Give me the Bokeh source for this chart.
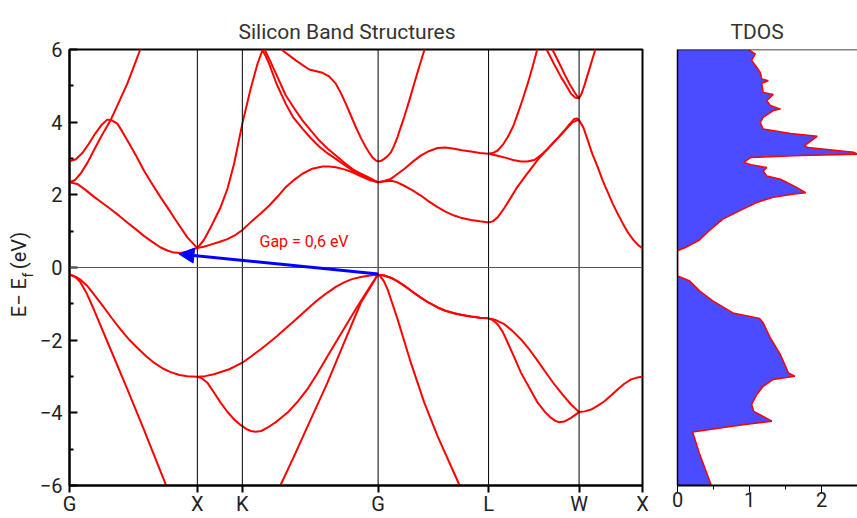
import math
from bokeh.plotting import figure
from bokeh.layouts import row
from bokeh.models import FixedTicker, Span, Label, Arrow, NormalHead, Range1d
from bokeh.embed import file_html
from bokeh.resources import INLINE

FONT = "Roboto"

# ---- k-path ----
kpath_pos = [0.0, 1.0, 1.352, 2.414, 3.278, 3.986, 4.482]
kpath_labels = ["G", "X", "K", "G", "L", "W", "X"]

# ---- conduction bands (k, E) ----
cb1_k = [0, 0.06, 0.12, 0.19, 0.26, 0.321, 0.39, 0.452, 0.52, 0.582, 0.65, 0.713, 0.77, 0.817, 0.87, 0.922, 0.96, 1.0,
         1.05, 1.104, 1.17, 1.235, 1.30, 1.352, 1.431, 1.50, 1.561, 1.63, 1.691, 1.76, 1.822, 1.90, 1.979,
         2.03, 2.083, 2.15, 2.214, 2.28, 2.344, 2.414,
         2.46, 2.513, 2.56, 2.618, 2.68, 2.748, 2.81, 2.879, 2.94, 3.009, 3.07, 3.140, 3.21, 3.278,
         3.31, 3.349, 3.40, 3.453, 3.50, 3.558, 3.61, 3.662, 3.71, 3.767, 3.82, 3.871, 3.91, 3.949, 3.97, 3.986,
         4.02, 4.054, 4.09, 4.132, 4.17, 4.211, 4.25, 4.289, 4.33, 4.367, 4.41, 4.45, 4.482]
cb1_e = [2.345, 2.30, 2.15, 1.95, 1.77, 1.61, 1.42, 1.24, 1.05, 0.87, 0.70, 0.55, 0.46, 0.41, 0.40, 0.44, 0.49, 0.535,
         0.57, 0.63, 0.70, 0.78, 0.90, 1.03, 1.29, 1.50, 1.70, 1.96, 2.21, 2.42, 2.58, 2.72, 2.78,
         2.78, 2.76, 2.70, 2.62, 2.51, 2.41, 2.345,
         2.37, 2.39, 2.35, 2.25, 2.13, 1.98, 1.82, 1.66, 1.54, 1.43, 1.36, 1.31, 1.27, 1.24,
         1.27, 1.38, 1.63, 1.93, 2.20, 2.48, 2.72, 2.96, 3.15, 3.36, 3.57, 3.77, 3.94, 4.09, 4.10, 4.05,
         3.85, 3.50, 3.12, 2.76, 2.40, 2.07, 1.75, 1.47, 1.20, 0.97, 0.76, 0.61, 0.535]

cb2_k = [0, 0.05, 0.10, 0.15, 0.20, 0.25, 0.295, 0.33, 0.374, 0.41, 0.452, 0.52, 0.582, 0.65, 0.713, 0.78, 0.843, 0.922, 1.0,
         1.05, 1.104, 1.182, 1.235, 1.287, 1.352, 1.417, 1.47, 1.509, 1.53, 1.561, 1.62, 1.691, 1.75, 1.822,
         1.89, 1.952, 2.02, 2.083, 2.15, 2.214, 2.28, 2.344, 2.414,
         2.46, 2.513, 2.56, 2.618, 2.68, 2.748, 2.81, 2.879, 2.94, 3.009, 3.07, 3.140, 3.21, 3.278,
         3.34, 3.401, 3.47, 3.532, 3.58, 3.636, 3.69, 3.741, 3.79, 3.845, 3.89, 3.937, 3.986]
cb2_e = [2.92, 2.98, 3.15, 3.40, 3.68, 3.92, 4.07, 4.05, 3.96, 3.76, 3.50, 3.08, 2.67, 2.28, 1.93, 1.58, 1.24, 0.83, 0.535,
         0.75, 1.10, 1.66, 2.16, 2.85, 3.96, 4.92, 5.60, 5.98, 5.85, 5.61, 5.05, 4.51, 4.13, 3.82,
         3.55, 3.33, 3.14, 2.99, 2.82, 2.67, 2.55, 2.44, 2.345,
         2.38, 2.44, 2.56, 2.71, 2.90, 3.08, 3.20, 3.29, 3.30, 3.27, 3.23, 3.19, 3.15, 3.13,
         3.08, 3.03, 2.96, 2.92, 2.92, 2.96, 3.10, 3.27, 3.46, 3.65, 3.83, 4.00, 4.07]

cb3_k = [0, 0.04, 0.086, 0.14, 0.19, 0.25, 0.321, 0.39, 0.452, 0.50, 0.551, 0.62]
cb3_e = [2.345, 2.40, 2.58, 2.88, 3.22, 3.62, 4.05, 4.58, 5.06, 5.50, 5.98, 6.6]

cb4_k = [1.50, 1.529, 1.561, 1.63, 1.691, 1.76, 1.822, 1.89, 1.952, 2.02, 2.083, 2.15, 2.214, 2.28, 2.344, 2.414]
cb4_e = [6.3, 5.98, 5.75, 5.22, 4.74, 4.37, 4.05, 3.76, 3.50, 3.27, 3.08, 2.88, 2.71, 2.58, 2.47, 2.345]

cb5_k = [1.60, 1.665, 1.770, 1.874, 1.979, 2.031, 2.083, 2.12, 2.161, 2.20, 2.240, 2.28, 2.318, 2.345, 2.370,
         2.395, 2.414, 2.44, 2.461, 2.49, 2.514, 2.54, 2.566, 2.59, 2.618, 2.66, 2.696, 2.735, 2.775, 2.82]
cb5_e = [6.4, 5.98, 5.70, 5.45, 5.36, 5.26, 5.06, 4.82, 4.51, 4.19, 3.86, 3.56, 3.31, 3.16, 3.03,
         2.95, 2.92, 2.94, 2.99, 3.07, 3.17, 3.36, 3.59, 3.85, 4.14, 4.62, 5.06, 5.52, 5.98, 6.6]

cb6_k = [3.278, 3.31, 3.349, 3.39, 3.428, 3.47, 3.506, 3.545, 3.584, 3.62, 3.657, 3.70]
cb6_e = [3.13, 3.15, 3.22, 3.38, 3.59, 3.88, 4.23, 4.63, 5.06, 5.50, 5.98, 6.6]

cb7_k = [3.70, 3.735, 3.79, 3.845, 3.89, 3.923, 3.955, 3.986, 4.005, 4.028, 4.07, 4.111, 4.15]
cb7_e = [6.5, 5.98, 5.60, 5.24, 4.98, 4.78, 4.68, 4.66, 4.78, 5.02, 5.50, 5.98, 6.5]

cb8_k = [3.75, 3.780, 3.83, 3.871, 3.91, 3.949, 3.97, 3.986]
cb8_e = [6.5, 5.98, 5.63, 5.33, 5.06, 4.83, 4.72, 4.66]

# ---- valence bands (k, E) ----
vb1_k = [0, 0.02, 0.04, 0.06, 0.086, 0.13, 0.19, 0.321, 0.452, 0.582, 0.754, 0.85]
vb1_e = [-0.2, -0.21, -0.25, -0.31, -0.41, -0.68, -1.15, -2.25, -3.35, -4.46, -5.98, -7.1]

vb2_k = [0, 0.05, 0.09, 0.138, 0.20, 0.269, 0.33, 0.399, 0.46, 0.530, 0.60, 0.661, 0.73, 0.791, 0.86, 0.922, 1.0,
         1.06, 1.130, 1.25, 1.352, 1.42, 1.496, 1.56, 1.626, 1.69, 1.757, 1.82, 1.887, 1.95, 2.018, 2.08,
         2.148, 2.21, 2.279, 2.35, 2.414,
         2.46, 2.513, 2.56, 2.618, 2.68, 2.748, 2.81, 2.879, 2.94, 3.009, 3.07, 3.140, 3.21, 3.278,
         3.33, 3.401, 3.46, 3.532, 3.60, 3.662, 3.73, 3.793, 3.86, 3.923, 3.986,
         4.03, 4.080, 4.13, 4.184, 4.24, 4.289, 4.34, 4.393, 4.44, 4.482]
vb2_e = [-0.2, -0.26, -0.35, -0.50, -0.78, -1.10, -1.39, -1.70, -1.96, -2.21, -2.44, -2.62, -2.78, -2.88, -2.96, -2.99, -3.01,
         -2.99, -2.94, -2.80, -2.62, -2.45, -2.25, -2.07, -1.88, -1.68, -1.47, -1.27, -1.06, -0.87, -0.69, -0.54,
         -0.41, -0.32, -0.26, -0.22, -0.2,
         -0.22, -0.28, -0.37, -0.50, -0.66, -0.83, -0.97, -1.10, -1.19, -1.26, -1.31, -1.35, -1.38, -1.40,
         -1.44, -1.56, -1.73, -1.98, -2.27, -2.57, -2.91, -3.22, -3.51, -3.77, -3.98,
         -3.96, -3.91, -3.81, -3.68, -3.51, -3.35, -3.20, -3.08, -3.03, -3.01]

vb3_k = [1.0, 1.04, 1.078, 1.13, 1.182, 1.235, 1.287, 1.34, 1.391, 1.42, 1.456, 1.50, 1.548, 1.62, 1.704,
         1.78, 1.861, 1.94, 2.018, 2.10, 2.175, 2.24, 2.305, 2.37, 2.414,
         2.46, 2.513, 2.56, 2.618, 2.68, 2.748, 2.81, 2.879, 2.94, 3.009, 3.07, 3.140, 3.21, 3.278,
         3.31, 3.349, 3.39, 3.428, 3.48, 3.532, 3.60, 3.662, 3.72, 3.767, 3.80, 3.832, 3.87, 3.923, 3.986]
vb3_e = [-3.01, -3.06, -3.17, -3.44, -3.72, -3.97, -4.18, -4.34, -4.46, -4.50, -4.52, -4.50, -4.41, -4.24, -4.00,
         -3.71, -3.35, -2.91, -2.44, -1.96, -1.52, -1.14, -0.78, -0.42, -0.2,
         -0.22, -0.28, -0.37, -0.50, -0.66, -0.83, -0.97, -1.10, -1.19, -1.26, -1.31, -1.35, -1.38, -1.40,
         -1.45, -1.56, -1.78, -2.07, -2.48, -2.90, -3.33, -3.72, -3.98, -4.14, -4.22, -4.26, -4.24, -4.14, -3.98]

vb4_k = [1.55, 1.652, 1.757, 1.887, 2.018, 2.148, 2.279, 2.383, 2.40, 2.414,
         2.43, 2.46, 2.488, 2.566, 2.670, 2.775, 2.879, 3.049, 3.15]
vb4_e = [-7.0, -5.98, -5.19, -4.18, -3.17, -2.07, -0.97, -0.37, -0.25, -0.2,
         -0.24, -0.38, -0.60, -1.42, -2.62, -3.72, -4.64, -5.98, -7.0]

bands = [(cb1_k, cb1_e), (cb2_k, cb2_e), (cb3_k, cb3_e), (cb4_k, cb4_e),
         (cb5_k, cb5_e), (cb6_k, cb6_e), (cb7_k, cb7_e), (cb8_k, cb8_e),
         (vb1_k, vb1_e), (vb2_k, vb2_e), (vb3_k, vb3_e), (vb4_k, vb4_e)]

# ---- gap annotation ----
gap_vbm_k, gap_vbm_e = 2.414, -0.18
gap_cbm_k, gap_cbm_e = 0.856, 0.37
gap_text = "Gap = 0,6 eV"

# ---- total DOS ----
dos_e = [6.0, 5.99, 5.88, 5.70, 5.51, 5.37, 5.19, 5.14, 5.07, 4.82,
         4.76, 4.59, 4.46, 4.36, 4.32, 4.13, 3.99, 3.81, 3.69, 3.61,
         3.35, 3.30, 3.17, 3.12, 3.08, 3.03, 2.89, 2.83, 2.75, 2.66,
         2.52, 2.43, 2.34, 2.20, 2.06, 2.02, 1.93, 1.79, 1.56, 1.33,
         1.01, 0.75, 0.55, 0.46, -0.23, -0.37, -0.65, -0.92, -1.25, -1.40,
         -1.52, -1.94, -2.40, -2.90, -2.99, -3.08, -3.27, -3.50, -3.77, -3.96,
         -4.10, -4.23, -4.33, -4.53, -5.15, -6.0]
dos_v = [0.99, 0.99, 1.08, 1.03, 1.10, 1.15, 1.17, 1.26, 1.17, 1.19,
         1.33, 1.24, 1.29, 1.43, 1.33, 1.19, 1.15, 1.19, 1.57, 1.94,
         1.76, 1.81, 2.45, 2.50, 1.72, 1.02, 0.92, 1.02, 1.24, 1.19,
         1.24, 1.43, 1.52, 1.66, 1.78, 1.62, 1.33, 1.10, 0.86, 0.63,
         0.44, 0.30, 0.11, 0.0, 0.0, 0.17, 0.31, 0.49, 0.77, 1.14,
         1.19, 1.29, 1.43, 1.54, 1.63, 1.33, 1.19, 1.10, 1.03, 1.06,
         1.19, 1.31, 0.91, 0.21, 0.31, 0.47]

y_major = [-6, -4, -2, 0, 2, 4, 6]
y_minor = [-5, -3, -1, 1, 3, 5]
dos_major = [0, 1, 2]
dos_minor = [0.5, 1.5, 2.5]

TXT = "#222222"
H = 518

# ================= y-label strip (pixel coordinates) =================
lab = figure(width=36, height=H, x_range=Range1d(0, 36), y_range=Range1d(H, 0),
             x_axis_type=None, y_axis_type=None, output_backend="svg", toolbar_location=None,
             min_border_left=0, min_border_right=0, min_border_top=0, min_border_bottom=0)
lab.outline_line_color = None
lab.grid.visible = False
lab_style = dict(angle=math.pi / 2, text_font=FONT, text_color=TXT)
lab.add_layout(Label(x=30, y=318, text="E\u2212 E", text_font_size="20px", **lab_style))
lab.add_layout(Label(x=35, y=271, text="f", text_font_size="14px", **lab_style))
lab.add_layout(Label(x=30, y=261, text="(eV)", text_font_size="20px", **lab_style))

# ================= band structure panel =================
p = figure(width=614, height=H, x_range=Range1d(kpath_pos[0], kpath_pos[-1]),
           y_range=Range1d(-6, 6), output_backend="svg", toolbar_location=None,
           min_border_left=32, min_border_right=8, min_border_top=49, min_border_bottom=33)
p.background_fill_color = "white"
p.border_fill_color = "white"
p.grid.visible = False
p.outline_line_color = "black"
p.outline_line_width = 2
p.outline_line_alpha = 1

p.title.text = "Silicon Band Structures"
p.title.align = "left"
p.title.offset = 169
p.title.text_font = FONT
p.title.text_font_size = "21px"
p.title.text_font_style = "normal"
p.title.text_color = "#333333"
p.title.standoff = 11

xa = p.xaxis[0]
xa.ticker = FixedTicker(ticks=kpath_pos)
xa.major_label_overrides = {k: lab_ for k, lab_ in zip(kpath_pos, kpath_labels)}
xa.major_tick_in = 0
xa.major_tick_out = 7
xa.minor_tick_in = 0
xa.minor_tick_out = 0
xa.axis_line_width = 2
xa.major_tick_line_width = 2
xa.major_label_standoff = -1
xa.major_label_text_font = FONT
xa.major_label_text_font_size = "20px"
xa.major_label_text_color = TXT

ya = p.yaxis[0]
ya.ticker = FixedTicker(ticks=y_major, minor_ticks=y_minor)
ya.major_label_overrides = {v: str(v).replace("-", "\u2212") for v in y_major}
ya.major_tick_in = 8
ya.major_tick_out = 0
ya.minor_tick_in = 4
ya.minor_tick_out = 0
ya.axis_line_width = 2
ya.major_tick_line_width = 2
ya.minor_tick_line_width = 2
ya.major_label_standoff = 7
ya.major_label_text_font = FONT
ya.major_label_text_font_size = "20px"
ya.major_label_text_color = TXT

for kk in kpath_pos[1:-1]:
    p.add_layout(Span(location=kk, dimension="height", line_color="black", line_width=1))
p.add_layout(Span(location=0, dimension="width", line_color="#555555", line_width=1))

for bk, be in bands:
    p.line(bk, be, line_color="red", line_width=2, line_join="round")

p.add_layout(Arrow(end=NormalHead(size=15, fill_color="blue", line_color="blue"),
                   x_start=gap_vbm_k, y_start=gap_vbm_e, x_end=gap_cbm_k, y_end=gap_cbm_e,
                   line_color="blue", line_width=3))
p.add_layout(Label(x=1.486, y=0.71, text=gap_text, text_color="red", text_font=FONT,
                   text_font_size="16px", text_baseline="middle"))

# ================= TDOS panel =================
q = figure(width=207, height=H, x_range=Range1d(0, 2.5), y_range=Range1d(-6, 6),
           output_backend="svg", toolbar_location=None,
           min_border_left=27, min_border_right=0, min_border_top=49, min_border_bottom=33)
q.background_fill_color = "white"
q.border_fill_color = "white"
q.grid.visible = False
q.outline_line_color = None

q.title.text = "TDOS"
q.title.align = "left"
q.title.offset = 53
q.title.text_font = FONT
q.title.text_font_size = "21px"
q.title.text_font_style = "normal"
q.title.text_color = "#333333"
q.title.standoff = 11

q.harea(x1=0, x2=dos_v, y=dos_e, fill_color="#4b4bff", fill_alpha=1)
q.line(dos_v, dos_e, line_color="red", line_width=1.5)
q.add_layout(Span(location=6, dimension="width", line_color="black", line_width=1.5))

qx = q.xaxis[0]
qx.ticker = FixedTicker(ticks=dos_major, minor_ticks=dos_minor)
qx.major_tick_in = 0
qx.major_tick_out = 7
qx.minor_tick_in = 0
qx.minor_tick_out = 4
qx.axis_line_width = 2
qx.major_label_standoff = -1
qx.major_label_text_font = FONT
qx.major_label_text_font_size = "20px"
qx.major_label_text_color = TXT

qy = q.yaxis[0]
qy.ticker = FixedTicker(ticks=[])
qy.major_tick_in = 0
qy.major_tick_out = 0
qy.minor_tick_in = 0
qy.minor_tick_out = 0
qy.axis_line_width = 1.5
qy.major_label_text_font_size = "0px"

layout = row(lab, p, q)
open("out.html", "w").write(file_html(layout, INLINE))
